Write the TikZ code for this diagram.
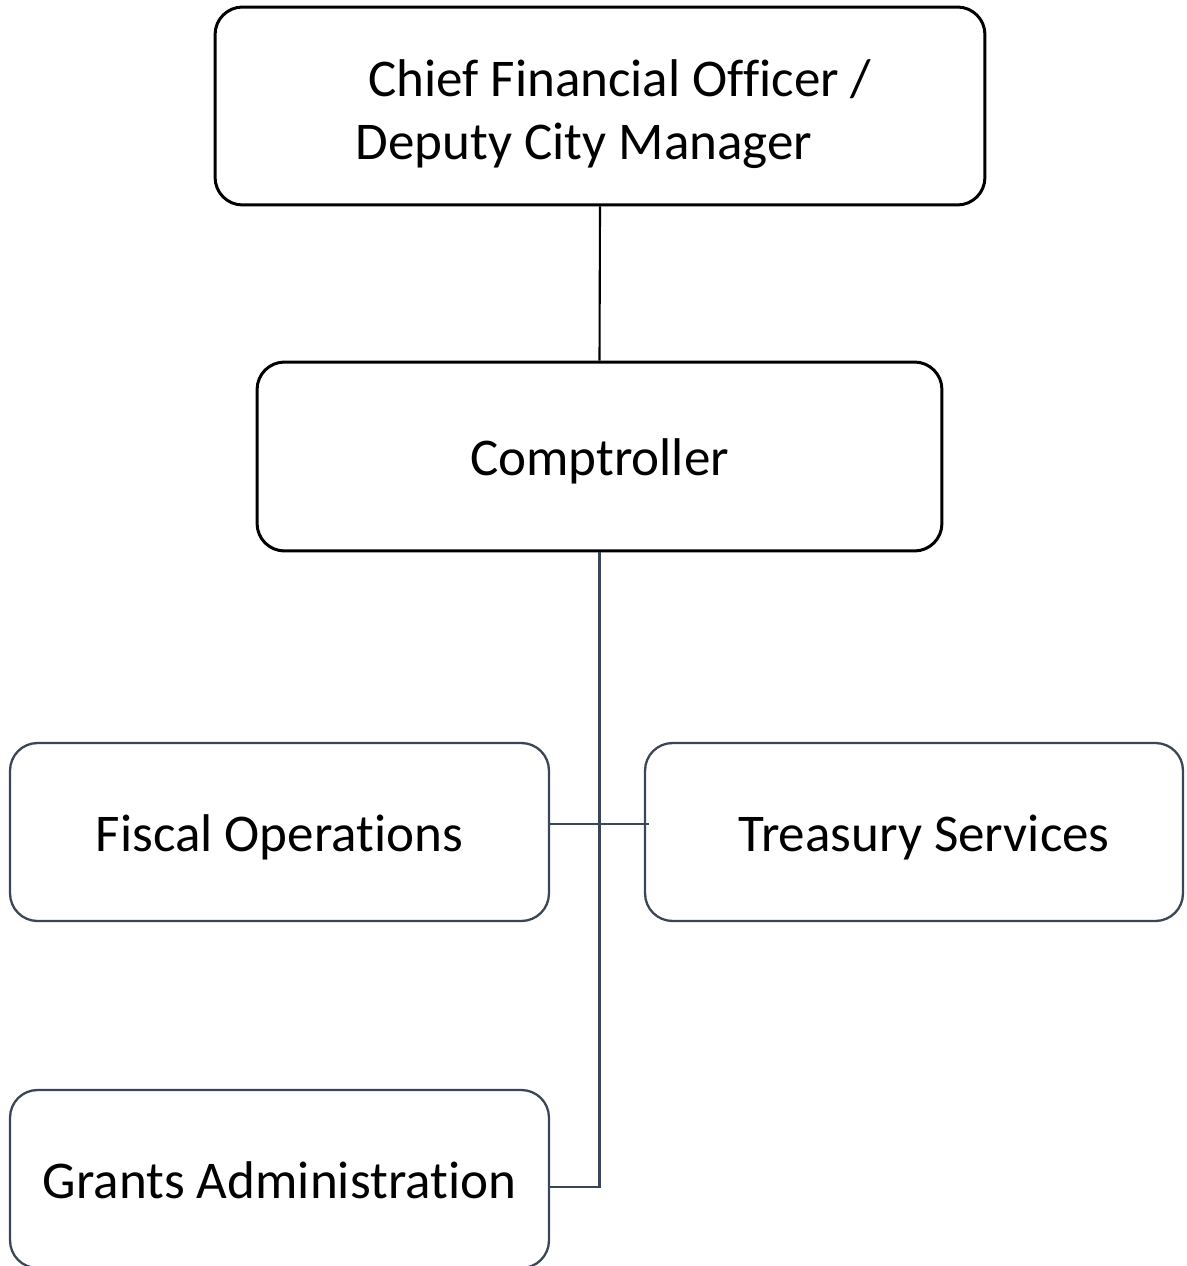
\documentclass[tikz,border=0pt]{standalone}
\usepackage{fontspec}
\setmainfont{Carlito}[Ligatures=NoCommon]
\usetikzlibrary{positioning}
\definecolor{orgslate}{HTML}{3A4557}

\begin{document}
\begin{tikzpicture}[x=0.02cm, y=-0.02cm, font=\fontsize{30.2}{36}\selectfont,
          unit/.style={draw=orgslate, line width=1.3pt, rounded corners=0.55cm, inner sep=0pt, align=flush center,
                       text height=0.9cm, text depth=0.14cm},
          head/.style={unit, draw=black, line width=1.7pt},
          tie/.style={draw=orgslate, line width=1.3pt}]
          \useasboundingbox (0,0) rectangle (1186,1266);
          \node[head, minimum width=15.4cm, text width=15.4cm, minimum height=3.96cm, text height=, text depth=1.12cm] (cfo) at (600,106)
                {\hspace*{0.8cm}Chief Financial Officer /\\Deputy City Manager\rule{0.64cm}{0pt}};
          \node[head, minimum width=13.7cm, minimum height=3.78cm] (comp) at (599.5,456.5) {Comptroller};
          \node[unit, minimum width=10.78cm, minimum height=3.56cm] (fiscal) at (279.5,832) {Fiscal Operations};
          \node[unit, minimum width=10.76cm, text width=10.76cm, minimum height=3.56cm] (treasury) at (914,832)
                {\hspace*{0.4cm}Treasury Services};
          \node[unit, minimum width=10.78cm, minimum height=3.56cm] (grants) at (279.5,1179) {Grants Administration};
          \draw[line width=1.2pt] (cfo.south) -- (comp.north);
          \draw[tie] (comp.south) |- ([yshift=-0.16cm]grants.east);
          \draw[tie] ([yshift=0.16cm]fiscal.east) -- ([yshift=0.16cm, xshift=0.1cm]treasury.west);
        \end{tikzpicture}
\end{document}
